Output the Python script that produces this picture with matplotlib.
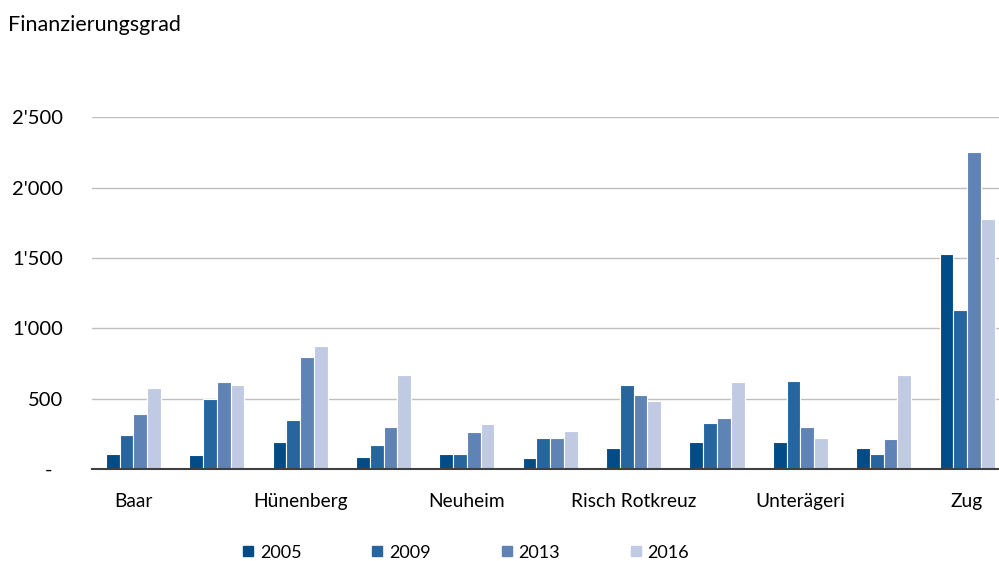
import numpy as np
import matplotlib
matplotlib.use("Agg")
import matplotlib.pyplot as plt
from matplotlib.lines import Line2D
from matplotlib.ticker import FixedLocator, FuncFormatter

plt.rcParams['font.family'] = ['Lato', 'DejaVu Sans']

# Gemeinden (only every second name is printed on the axis)
gemeinden = ["Baar", "Cham", "Hünenberg", "Menzingen", "Neuheim", "Oberägeri",
             "Risch Rotkreuz", "Steinhausen", "Unterägeri", "Walchwil", "Zug"]
shown = [True, False, True, False, True, False, True, False, True, False, True]

jahre = ["2005", "2009", "2013", "2016"]
w2005 = [110, 100, 195, 90, 110, 78, 150, 196, 192, 149, 1527]
w2009 = [245, 497, 350, 170, 110, 220, 597, 331, 627, 109, 1129]
w2013 = [395, 618, 800, 298, 267, 220, 528, 362, 298, 217, 2253]
w2016 = [580, 596, 875, 672, 325, 270, 485, 622, 224, 667, 1777]
farben = ["#004c88", "#27659f", "#5e83b4", "#c0cbe3"]

yticks = [0, 500, 1000, 1500, 2000, 2500]


def fmt(v, pos):
    if v == 0:
        return "-  "
    return f"{int(v):,}".replace(",", "'")


fig = plt.figure(figsize=(9.99, 5.61), dpi=100)
ax = fig.add_axes([0.0918, 0.1635, 0.918, 0.6275])

x = np.arange(len(gemeinden))
bw = 0.165
serien = [w2005, w2009, w2013, w2016]
for i, (vals, c) in enumerate(zip(serien, farben)):
    ax.bar(x + (i - 1.5) * bw, vals, width=bw, color=c, edgecolor="white",
           linewidth=0.8, zorder=3)

ax.set_xlim(-0.5, len(gemeinden) - 0.5)
ax.set_ylim(0, 2500)
ax.yaxis.set_major_locator(FixedLocator(yticks))
ax.yaxis.set_major_formatter(FuncFormatter(fmt))
ax.grid(axis="y", color="#bfbfbf", linewidth=1.0, zorder=0)
ax.set_axisbelow(True)

ax.set_xticks(x)
ax.set_xticklabels([g if s else "" for g, s in zip(gemeinden, shown)])

for s in ["top", "right", "left"]:
    ax.spines[s].set_visible(False)
ax.spines["bottom"].set_color("#404040")
ax.spines["bottom"].set_linewidth(1.5)
ax.spines["bottom"].set_zorder(4)

ax.tick_params(axis="both", length=0, colors="black")
ax.tick_params(axis="x", pad=17, labelsize=13.8)
ax.tick_params(axis="y", pad=20.5, labelsize=14.5)

fig.text(0.008, 0.955, "Finanzierungsgrad", fontsize=15.5, va="center", ha="left")

handles = [Line2D([], [], marker="s", linestyle="none", color=c, markersize=7.5)
           for c in farben]
fig.legend(handles, jahre, loc="center", bbox_to_anchor=(0.466, 0.015),
           ncol=4, frameon=False, fontsize=13, handlelength=0.7,
           handletextpad=0.3, columnspacing=3.85)

fig.savefig("out.png", dpi=100)
